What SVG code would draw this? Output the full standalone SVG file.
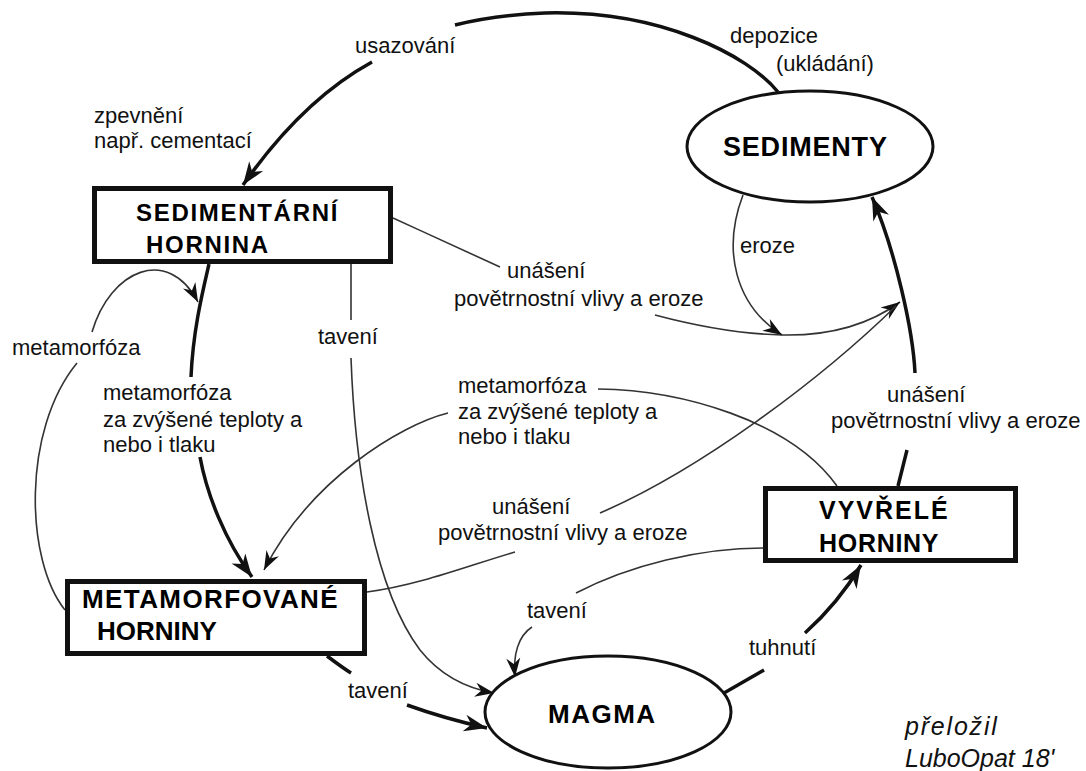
<svg xmlns="http://www.w3.org/2000/svg" width="1086" height="771" viewBox="0 0 1086 771">
<defs>
<style>
.lbl{font-family:"Liberation Sans",Arial,sans-serif;font-size:22px;fill:#111}
.nb{font-family:"Liberation Sans",Arial,sans-serif;font-weight:bold;fill:#000}
.box{fill:#fff;stroke:#111;stroke-width:5}
.ell{fill:#fff;stroke:#111;stroke-width:3}
.thick{fill:none;stroke:#111;stroke-width:3.5}
.thin{fill:none;stroke:#333;stroke-width:1.6}
.at{marker-end:url(#ahT)}
.an{marker-end:url(#ahN)}
.sig{font-family:"Liberation Sans",Arial,sans-serif;font-style:italic;font-size:25px;fill:#111}
</style>
<marker id="ahT" markerUnits="userSpaceOnUse" markerWidth="26" markerHeight="20" viewBox="-24 -10 26 20" refX="0" refY="0" orient="auto">
<path d="M0,0 L-23,-8.5 L-16,0 L-23,8.5 Z" fill="#111"/>
</marker>
<marker id="ahN" markerUnits="userSpaceOnUse" markerWidth="22" markerHeight="16" viewBox="-20 -8 22 16" refX="0" refY="0" orient="auto">
<path d="M0,0 L-19,-7 L-13,0 L-19,7 Z" fill="#111"/>
</marker>
</defs>
<rect width="1086" height="771" fill="#fff"/>

<g id="connectors">
<path class="thick" d="M778,92 C748,55 660,10 545,13 Q495,15 455,25"/>
<path class="thick at" d="M372,62 C330,85 285,125 243,185"/>
<path class="thick" d="M209,264 C203,290 193,330 191,377"/>
<path class="thick at" d="M200,457 C207,495 225,540 252,577"/>
<path class="thin" d="M598,389 C680,390 790,420 837,486"/>
<path class="thin an" d="M448,413 C400,425 310,480 264,570"/>
<path class="thin" d="M351,264 L351,320"/>
<path class="thin an" d="M351,358 C355,470 375,590 420,650 C440,675 465,688 494,693"/>
<path class="thin" d="M393,218 C430,235 470,253 500,267"/>
<path class="thin an" d="M655,315 C700,327 740,334 782,335 C830,336 870,324 900,302"/>
<path class="thin" d="M367,592 C420,585 470,565 515,552"/>
<path class="thin" d="M600,513 C700,470 820,380 896,306"/>
<path class="thick" d="M898,486 L907,450"/>
<path class="thick at" d="M915,373 C913,330 895,250 872,197"/>
<path class="thin an" d="M743,195 C722,250 735,305 782,335"/>
<path class="thin" d="M65,610 C25,560 22,430 77,363"/>
<path class="thin an" d="M92,332 C110,270 168,245 198,302"/>
<path class="thick" d="M724,693 L764,670"/>
<path class="thick at" d="M805,633 C825,615 845,592 861,565"/>
<path class="thin" d="M763,548 C700,548 630,565 576,593"/>
<path class="thin an" d="M532,627 C518,636 513,655 515,677"/>
<path class="thick" d="M327,656 C335,662 343,668 351,673"/>
<path class="thick at" d="M407,705 C432,714 460,722 487,728"/>
</g>

<g id="labels">
<text class="lbl" x="355" y="53">usazování</text>
<text class="lbl" x="730" y="43">depozice</text>
<text class="lbl" x="776" y="71">(ukládání)</text>
<text class="lbl" x="94" y="123">zpevnění</text>
<text class="lbl" x="94" y="148">např. cementací</text>
<text class="lbl" x="12" y="355">metamorfóza</text>
<text class="lbl" x="103" y="400">metamorfóza</text>
<text class="lbl" x="103" y="427">za zvýšené teploty a</text>
<text class="lbl" x="103" y="452">nebo i tlaku</text>
<text class="lbl" x="318" y="344">tavení</text>
<text class="lbl" x="507" y="278">unášení</text>
<text class="lbl" x="454" y="306">povětrnostní vlivy a eroze</text>
<text class="lbl" x="740" y="253">eroze</text>
<text class="lbl" x="458" y="393">metamorfóza</text>
<text class="lbl" x="458" y="419">za zvýšené teploty a</text>
<text class="lbl" x="458" y="444">nebo i tlaku</text>
<text class="lbl" x="492" y="514">unášení</text>
<text class="lbl" x="438" y="540">povětrnostní vlivy a eroze</text>
<text class="lbl" x="887" y="402">unášení</text>
<text class="lbl" x="831" y="428">povětrnostní vlivy a eroze</text>
<text class="lbl" x="527" y="618">tavení</text>
<text class="lbl" x="348" y="698">tavení</text>
<text class="lbl" x="749" y="655">tuhnutí</text>
<text class="sig" x="905" y="735" letter-spacing="1.8">přeložil</text>
<text class="sig" x="905" y="767">LuboOpat 18'</text>
</g>

<g id="node-sedimentarni">
<rect class="box" x="94.5" y="188.5" width="296" height="73"/>
<text class="nb" x="136" y="221" font-size="24" letter-spacing="1.7">SEDIMENTÁRNÍ</text>
<text class="nb" x="146" y="253" font-size="24" letter-spacing="1.7">HORNINA</text>
</g>

<g id="node-sedimenty">
<ellipse class="ell" cx="810" cy="146.5" rx="123" ry="55.5"/>
<text class="nb" x="723" y="156" font-size="27" letter-spacing="0.8">SEDIMENTY</text>
</g>

<g id="node-metamorfovane">
<rect class="box" x="67.5" y="581.5" width="297" height="72"/>
<text class="nb" x="82" y="608" font-size="26" letter-spacing="1.4">METAMORFOVANÉ</text>
<text class="nb" x="97" y="640" font-size="26">HORNINY</text>
</g>

<g id="node-vyvrele">
<rect class="box" x="765.5" y="488.5" width="250" height="72"/>
<text class="nb" x="819" y="519" font-size="25" letter-spacing="2">VYVŘELÉ</text>
<text class="nb" x="819" y="552" font-size="25" letter-spacing="0.7">HORNINY</text>
</g>

<g id="node-magma">
<ellipse class="ell" cx="608" cy="712" rx="123" ry="56"/>
<text class="nb" x="548" y="723" font-size="26" letter-spacing="1.5">MAGMA</text>
</g>
</svg>
